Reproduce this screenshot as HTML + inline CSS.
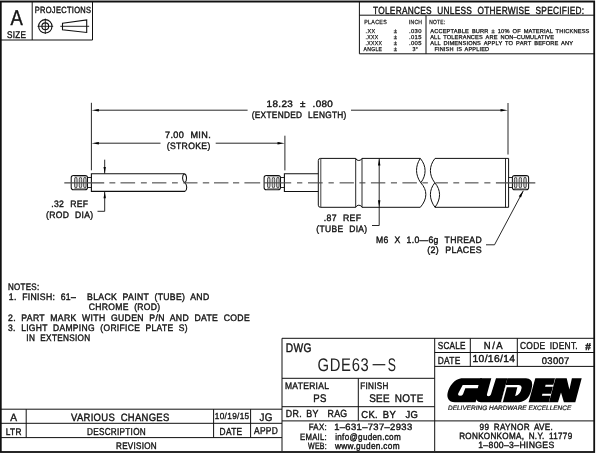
<!DOCTYPE html>
<html><head><meta charset="utf-8"><title>GDE63-S</title>
<style>
html,body{margin:0;padding:0;background:#fff;}
body{width:600px;height:453px;overflow:hidden;}
svg{display:block;will-change:transform;}
svg text{font-family:"Liberation Sans",sans-serif;text-rendering:geometricPrecision;fill:#141414;white-space:pre;stroke:#141414;stroke-width:0.4px;letter-spacing:0.35px;}
.l line,.l path,.l rect,.l circle,.l polyline{stroke:#101010;fill:none;}
.f{fill:#000;stroke:none;}
svg .sm text{stroke-width:0.25px;}
</style></head><body>
<svg width="600" height="453" viewBox="0 0 600 453">
<rect x="0" y="0" width="600" height="453" fill="#fff"/>
<g class="l">
<rect x="0" y="0" width="595" height="0.9" style="fill:#c6c6c6;stroke:none"/>
<rect x="0.8" y="1.6" width="593.4" height="450.4" stroke-width="1.8"/>
<line x1="32.2" y1="1" x2="32.2" y2="40" stroke-width="1.0" />
<line x1="92.5" y1="1" x2="92.5" y2="40" stroke-width="1.0" />
<line x1="1" y1="40" x2="92.5" y2="40" stroke-width="1.0" />
<circle cx="45.3" cy="26.3" r="6.7" stroke-width="1.1"/>
<circle cx="45.3" cy="26.3" r="3.4" stroke-width="1.1"/>
<line x1="37.5" y1="26.3" x2="53.2" y2="26.3" stroke-width="0.9" />
<line x1="45.3" y1="18.6" x2="45.3" y2="34" stroke-width="0.9" />
<path d="M62.5,23.2 L86.7,20 L86.7,32.5 L62.5,29.7 Z" stroke-width="1.1"/>
<line x1="60.3" y1="26.3" x2="89.2" y2="26.3" stroke-width="0.9" />
<line x1="359.4" y1="1" x2="359.4" y2="53.8" stroke-width="1.0" />
<line x1="359.4" y1="15.2" x2="595" y2="15.2" stroke-width="1.0" />
<line x1="359.4" y1="53.8" x2="595" y2="53.8" stroke-width="1.0" />
<line x1="426" y1="15.2" x2="426" y2="53.8" stroke-width="1.0" />
<line x1="91.4" y1="102.8" x2="91.4" y2="170.3" stroke-width="0.9" />
<line x1="508" y1="103" x2="508" y2="154.5" stroke-width="0.9" />
<line x1="284.9" y1="135.7" x2="284.9" y2="170.4" stroke-width="0.9" />
<line x1="96.3" y1="110.2" x2="247.6" y2="110.2" stroke-width="0.9" />
<line x1="351" y1="110.2" x2="503" y2="110.2" stroke-width="0.9" />
<line x1="96.3" y1="143.2" x2="160.5" y2="143.2" stroke-width="0.9" />
<line x1="215.7" y1="143.2" x2="280" y2="143.2" stroke-width="0.9" />
<line x1="104.7" y1="159.7" x2="104.7" y2="173.5" stroke-width="0.9" />
<polyline points="104.7,191.7 104.7,211.3 97.5,211.3" stroke-width="0.9"/>
<polyline points="379.2,158.5 379.2,225.5 372,225.5" stroke-width="0.9"/>
<polyline points="523.3,190.8 494.5,244.8 486,244.8" stroke-width="0.9"/>
<path d="M184.3,173.8 H91.4 V191.4 H185" stroke-width="1.1"/>
<path d="M184.3,173.8 C187.2,174.8 187.2,181.2 184.8,182.8 C182,181.2 181.8,175.3 184.3,173.8 M184.8,182.8 C187.4,184.7 187.3,189.8 185,191.4" stroke-width="1.05"/>
<path d="M73.5,175.45 H85.2 Q87.5,175.45 87.5,177.75 V187.45 Q87.5,189.75 85.2,189.75 H73.5 Q71.2,189.75 71.2,187.45 V177.75 Q71.2,175.45 73.5,175.45 Z" stroke-width="1.05"/>
<rect x="74.60" y="177.30" width="2.5" height="10.6" rx="1.2" ry="2" stroke-width="0.75" style="stroke:#1a1a1a;fill:#d4d4d4"/>
<rect x="79.24" y="177.30" width="2.5" height="10.6" rx="1.2" ry="2" stroke-width="0.75" style="stroke:#1a1a1a;fill:#d4d4d4"/>
<rect x="83.64" y="177.30" width="2.5" height="10.6" rx="1.2" ry="2" stroke-width="0.75" style="stroke:#1a1a1a;fill:#d4d4d4"/>
<path d="M74.25,176.70 H86.49 M74.25,188.50 H86.49" stroke-width="0.6" style="stroke:#555"/>
<path d="M87.5,177.50 H91.4 M87.5,187.50 H91.4" stroke-width="0.9"/>
<path d="M266.40000000000003,175.45 H278.2 Q280.5,175.45 280.5,177.75 V187.45 Q280.5,189.75 278.2,189.75 H266.40000000000003 Q264.1,189.75 264.1,187.45 V177.75 Q264.1,175.45 266.40000000000003,175.45 Z" stroke-width="1.05"/>
<rect x="267.52" y="177.30" width="2.5" height="10.6" rx="1.2" ry="2" stroke-width="0.75" style="stroke:#1a1a1a;fill:#d4d4d4"/>
<rect x="272.20" y="177.30" width="2.5" height="10.6" rx="1.2" ry="2" stroke-width="0.75" style="stroke:#1a1a1a;fill:#d4d4d4"/>
<rect x="276.63" y="177.30" width="2.5" height="10.6" rx="1.2" ry="2" stroke-width="0.75" style="stroke:#1a1a1a;fill:#d4d4d4"/>
<path d="M267.17,176.70 H279.48 M267.17,188.50 H279.48" stroke-width="0.6" style="stroke:#555"/>
<path d="M280.5,177.50 H284.4 M280.5,187.50 H284.4" stroke-width="0.9"/>
<path d="M318.3,173.8 H284.4 V191.5 H318.3" stroke-width="1.1"/>
<path d="M420.3,158.4 H362 Q361.2,160.5 358.85,160.5 Q356.5,160.5 355.7,158.4 H320.5 Q318.3,158.4 318.3,160.6 V205.2 Q318.3,207.3 320.5,207.3 H355.7 Q356.5,205.2 358.85,205.2 Q361.2,205.2 362,207.3 H420.3" stroke-width="1"/>
<line x1="320.8" y1="158.4" x2="320.8" y2="207.3" stroke-width="0.8" />
<line x1="355.7" y1="158.4" x2="355.7" y2="207.3" stroke-width="0.9" />
<line x1="362" y1="158.4" x2="362" y2="207.3" stroke-width="0.9" />
<path d="M420.3,158.4 C426.6,166 426.6,175 420.8,182.8 C415.2,175 415.2,166 420.3,158.4 M420.8,182.8 C427.6,190 427.6,199 420.3,207.3" stroke-width="1"/>
<path d="M435,158.4 H508.6 V207.3 H435" stroke-width="1"/>
<line x1="505.5" y1="158.4" x2="505.5" y2="207.3" stroke-width="0.9" />
<path d="M435,158.4 C428.9,166 428.9,175 434.8,182.8 C441.1,190 441.1,199 435,207.3 C428.9,199 428.9,190 434.8,182.8" stroke-width="1"/>
<path d="M514.6999999999999,175.45 H526.3000000000001 Q528.6,175.45 528.6,177.75 V187.45 Q528.6,189.75 526.3000000000001,189.75 H514.6999999999999 Q512.4,189.75 512.4,187.45 V177.75 Q512.4,175.45 514.6999999999999,175.45 Z" stroke-width="1.05"/>
<rect x="514.39" y="177.30" width="2.5" height="10.6" rx="1.2" ry="2" stroke-width="0.75" style="stroke:#1a1a1a;fill:#d4d4d4"/>
<rect x="519.09" y="177.30" width="2.5" height="10.6" rx="1.2" ry="2" stroke-width="0.75" style="stroke:#1a1a1a;fill:#d4d4d4"/>
<rect x="523.79" y="177.30" width="2.5" height="10.6" rx="1.2" ry="2" stroke-width="0.75" style="stroke:#1a1a1a;fill:#d4d4d4"/>
<path d="M514.04,176.70 H526.64 M514.04,188.50 H526.64" stroke-width="0.6" style="stroke:#555"/>
<path d="M512.4,177.50 H508.5 M512.4,187.50 H508.5" stroke-width="0.9"/>
<line x1="64.3" y1="182.85" x2="104.2" y2="182.85" stroke-width="1.1" style="stroke:#4a4a4a"/>
<line x1="109.4" y1="182.85" x2="115.3" y2="182.85" stroke-width="1.1" style="stroke:#4a4a4a"/>
<line x1="120.5" y1="182.85" x2="135.1" y2="182.85" stroke-width="1.1" style="stroke:#4a4a4a"/>
<line x1="140.9" y1="182.85" x2="146.8" y2="182.85" stroke-width="1.1" style="stroke:#4a4a4a"/>
<line x1="152" y1="182.85" x2="166.4" y2="182.85" stroke-width="1.1" style="stroke:#4a4a4a"/>
<line x1="172" y1="182.85" x2="177.8" y2="182.85" stroke-width="1.1" style="stroke:#4a4a4a"/>
<line x1="183.2" y1="182.85" x2="197.5" y2="182.85" stroke-width="1.1" style="stroke:#4a4a4a"/>
<line x1="202.8" y1="182.85" x2="209.2" y2="182.85" stroke-width="1.1" style="stroke:#4a4a4a"/>
<line x1="214" y1="182.85" x2="228.4" y2="182.85" stroke-width="1.1" style="stroke:#4a4a4a"/>
<line x1="233" y1="182.85" x2="239.2" y2="182.85" stroke-width="1.1" style="stroke:#4a4a4a"/>
<line x1="244.4" y1="182.85" x2="260.2" y2="182.85" stroke-width="1.1" style="stroke:#4a4a4a"/>
<line x1="264" y1="182.85" x2="291.2" y2="182.85" stroke-width="1.1" style="stroke:#4a4a4a"/>
<line x1="297" y1="182.85" x2="302.3" y2="182.85" stroke-width="1.1" style="stroke:#4a4a4a"/>
<line x1="308" y1="182.85" x2="322.7" y2="182.85" stroke-width="1.1" style="stroke:#4a4a4a"/>
<line x1="328.5" y1="182.85" x2="333.8" y2="182.85" stroke-width="1.1" style="stroke:#4a4a4a"/>
<line x1="339.6" y1="182.85" x2="353.9" y2="182.85" stroke-width="1.1" style="stroke:#4a4a4a"/>
<line x1="359.4" y1="182.85" x2="365.4" y2="182.85" stroke-width="1.1" style="stroke:#4a4a4a"/>
<line x1="370.9" y1="182.85" x2="385.3" y2="182.85" stroke-width="1.1" style="stroke:#4a4a4a"/>
<line x1="390.9" y1="182.85" x2="397" y2="182.85" stroke-width="1.1" style="stroke:#4a4a4a"/>
<line x1="402.4" y1="182.85" x2="416.9" y2="182.85" stroke-width="1.1" style="stroke:#4a4a4a"/>
<line x1="422.3" y1="182.85" x2="427.9" y2="182.85" stroke-width="1.1" style="stroke:#4a4a4a"/>
<line x1="435.6" y1="182.85" x2="447.9" y2="182.85" stroke-width="1.1" style="stroke:#4a4a4a"/>
<line x1="453.3" y1="182.85" x2="459.2" y2="182.85" stroke-width="1.1" style="stroke:#4a4a4a"/>
<line x1="464.9" y1="182.85" x2="478.5" y2="182.85" stroke-width="1.1" style="stroke:#4a4a4a"/>
<line x1="484.3" y1="182.85" x2="490.4" y2="182.85" stroke-width="1.1" style="stroke:#4a4a4a"/>
<line x1="495.9" y1="182.85" x2="535.3" y2="182.85" stroke-width="1.1" style="stroke:#4a4a4a"/>
<line x1="1" y1="409.2" x2="282" y2="409.2" stroke-width="1.0" />
<line x1="1" y1="423.3" x2="282" y2="423.3" stroke-width="1.0" />
<line x1="1" y1="437.6" x2="282" y2="437.6" stroke-width="1.0" />
<line x1="26.2" y1="409.2" x2="26.2" y2="437.6" stroke-width="1.0" />
<line x1="213.6" y1="409.2" x2="213.6" y2="437.6" stroke-width="1.0" />
<line x1="250.6" y1="409.2" x2="250.6" y2="437.6" stroke-width="1.0" />
<line x1="282" y1="338.3" x2="595" y2="338.3" stroke-width="1.0" />
<line x1="282" y1="338.3" x2="282" y2="451" stroke-width="1.0" />
<line x1="282" y1="378.3" x2="434.7" y2="378.3" stroke-width="1.0" />
<line x1="282" y1="406.7" x2="434.7" y2="406.7" stroke-width="1.0" />
<line x1="282" y1="420.9" x2="595" y2="420.9" stroke-width="1.0" />
<line x1="358.3" y1="378.3" x2="358.3" y2="420.8" stroke-width="1.0" />
<line x1="434.7" y1="338.3" x2="434.7" y2="451" stroke-width="1.0" />
<line x1="434.7" y1="352.5" x2="595" y2="352.5" stroke-width="1.0" />
<line x1="434.7" y1="366.4" x2="595" y2="366.4" stroke-width="1.0" />
<line x1="470.3" y1="338.3" x2="470.3" y2="366.4" stroke-width="1.0" />
<line x1="517.3" y1="338.3" x2="517.3" y2="366.4" stroke-width="1.0" />
</g>
<polygon class="f" points="91.60,110.20 98.90,108.95 98.90,111.45"/>
<polygon class="f" points="507.80,110.20 500.50,111.45 500.50,108.95"/>
<polygon class="f" points="91.60,143.20 98.90,141.95 98.90,144.45"/>
<polygon class="f" points="284.80,143.20 277.50,144.45 277.50,141.95"/>
<polygon class="f" points="104.70,173.50 103.50,167.00 105.90,167.00"/>
<polygon class="f" points="104.70,191.70 105.90,198.20 103.50,198.20"/>
<polygon class="f" points="379.20,158.50 380.40,165.50 378.00,165.50"/>
<polygon class="f" points="379.20,207.30 378.00,200.30 380.40,200.30"/>
<polygon class="f" points="523.30,190.80 521.02,197.55 518.75,196.28"/>
<g>
<text x="10.6" y="25.3" font-size="21.4" textLength="12.6" lengthAdjust="spacingAndGlyphs" >A</text>
<text x="7" y="37.5" font-size="9.7" textLength="19.3" lengthAdjust="spacingAndGlyphs" >SIZE</text>
<text x="34.7" y="12.5" font-size="9.0" textLength="56.6" lengthAdjust="spacingAndGlyphs" >PROJECTIONS</text>
<text x="373" y="13.6" font-size="10.4" textLength="211.4" lengthAdjust="spacingAndGlyphs" word-spacing="3.5">TOLERANCES UNLESS OTHERWISE SPECIFIED:</text>
<g class="sm">
<text x="364.2" y="24" font-size="6.0" textLength="22.8" lengthAdjust="spacingAndGlyphs" >PLACES</text>
<text x="408.8" y="24" font-size="6.0" textLength="13.5" lengthAdjust="spacingAndGlyphs" >INCH</text>
<text x="429.2" y="24" font-size="6.0" textLength="16.2" lengthAdjust="spacingAndGlyphs" >NOTE:</text>
<text x="365.6" y="32.7" font-size="5.7" textLength="9.8" lengthAdjust="spacingAndGlyphs" >.XX</text>
<text x="365.6" y="38.7" font-size="5.7" textLength="12.9" lengthAdjust="spacingAndGlyphs" >.XXX</text>
<text x="365.6" y="44.7" font-size="5.7" textLength="16.7" lengthAdjust="spacingAndGlyphs" >.XXXX</text>
<text x="363.5" y="50.7" font-size="5.7" textLength="18.8" lengthAdjust="spacingAndGlyphs" >ANGLE</text>
<text x="393.8" y="32.7" font-size="5.7" textLength="3.7" lengthAdjust="spacingAndGlyphs" >±</text>
<text x="393.8" y="38.7" font-size="5.7" textLength="3.7" lengthAdjust="spacingAndGlyphs" >±</text>
<text x="393.8" y="44.7" font-size="5.7" textLength="3.7" lengthAdjust="spacingAndGlyphs" >±</text>
<text x="393.8" y="50.7" font-size="5.7" textLength="3.7" lengthAdjust="spacingAndGlyphs" >±</text>
<text x="409" y="32.7" font-size="5.7" textLength="12.9" lengthAdjust="spacingAndGlyphs" >.030</text>
<text x="409" y="38.7" font-size="5.7" textLength="12.9" lengthAdjust="spacingAndGlyphs" >.015</text>
<text x="409" y="44.7" font-size="5.7" textLength="12.9" lengthAdjust="spacingAndGlyphs" >.005</text>
<text x="412.5" y="50.7" font-size="5.7" textLength="5.8" lengthAdjust="spacingAndGlyphs" >3°</text>
<text x="430.2" y="32.7" font-size="5.7" textLength="159.4" lengthAdjust="spacingAndGlyphs" word-spacing="1.2" style="letter-spacing:0.15px">ACCEPTABLE BURR ± 10% OF MATERIAL THICKNESS</text>
<text x="430.2" y="38.7" font-size="5.7" textLength="124.0" lengthAdjust="spacingAndGlyphs" word-spacing="1.2" style="letter-spacing:0.15px">ALL TOLERANCES ARE NON–CUMULATIVE</text>
<text x="430.2" y="44.7" font-size="5.7" textLength="143.1" lengthAdjust="spacingAndGlyphs" word-spacing="1.2" style="letter-spacing:0.15px">ALL DIMENSIONS APPLY TO PART BEFORE ANY</text>
<text x="434.4" y="50.7" font-size="5.7" textLength="54.8" lengthAdjust="spacingAndGlyphs" word-spacing="1.2" style="letter-spacing:0.15px">FINISH IS APPLIED</text>
</g>
<text x="266.6" y="107.0" font-size="9.3" textLength="66.6" lengthAdjust="spacingAndGlyphs" word-spacing="3.5">18.23 ± .080</text>
<text x="251.7" y="117.9" font-size="9.3" textLength="95.0" lengthAdjust="spacingAndGlyphs" word-spacing="3.5">(EXTENDED LENGTH)</text>
<text x="165" y="137.9" font-size="9.3" textLength="46" lengthAdjust="spacingAndGlyphs" word-spacing="3.5">7.00 MIN.</text>
<text x="166.7" y="149.4" font-size="9.3" textLength="44.0" lengthAdjust="spacingAndGlyphs" >(STROKE)</text>
<text x="51.3" y="207.1" font-size="9.3" textLength="37.0" lengthAdjust="spacingAndGlyphs" word-spacing="3.5">.32 REF</text>
<text x="46" y="217.9" font-size="9.3" textLength="47.5" lengthAdjust="spacingAndGlyphs" word-spacing="3.5">(ROD DIA)</text>
<text x="323.8" y="221.4" font-size="9.3" textLength="37.5" lengthAdjust="spacingAndGlyphs" word-spacing="3.5">.87 REF</text>
<text x="316.3" y="232.2" font-size="9.3" textLength="51.2" lengthAdjust="spacingAndGlyphs" word-spacing="3.5">(TUBE DIA)</text>
<text x="375.9" y="242.7" font-size="9.3" textLength="106.1" lengthAdjust="spacingAndGlyphs" word-spacing="3.5">M6 X 1.0—6g THREAD</text>
<text x="427.3" y="252.9" font-size="9.3" textLength="54.7" lengthAdjust="spacingAndGlyphs" word-spacing="3.5">(2) PLACES</text>
<text x="8" y="290.1" font-size="9.4" textLength="31.5" lengthAdjust="spacingAndGlyphs" >NOTES:</text>
<text x="8.8" y="300.2" font-size="9.4" textLength="200.7" lengthAdjust="spacingAndGlyphs" word-spacing="3">1. FINISH: 61–  BLACK PAINT (TUBE) AND</text>
<text x="88.8" y="310.4" font-size="9.4" textLength="71.7" lengthAdjust="spacingAndGlyphs" word-spacing="3">CHROME (ROD)</text>
<text x="8" y="320.5" font-size="9.4" textLength="242" lengthAdjust="spacingAndGlyphs" word-spacing="3">2. PART MARK WITH GUDEN P/N AND DATE CODE</text>
<text x="8" y="330.9" font-size="9.4" textLength="180" lengthAdjust="spacingAndGlyphs" word-spacing="3">3. LIGHT DAMPING (ORIFICE PLATE S)</text>
<text x="26.3" y="341.0" font-size="9.4" textLength="64.2" lengthAdjust="spacingAndGlyphs" word-spacing="3">IN EXTENSION</text>
<text x="10.2" y="420.6" font-size="10.7" textLength="7.1" lengthAdjust="spacingAndGlyphs" >A</text>
<text x="5.8" y="434.5" font-size="9.5" textLength="15.9" lengthAdjust="spacingAndGlyphs" >LTR</text>
<text x="71" y="420.6" font-size="10.6" textLength="98.6" lengthAdjust="spacingAndGlyphs" word-spacing="3">VARIOUS CHANGES</text>
<text x="87" y="434.7" font-size="10.0" textLength="59" lengthAdjust="spacingAndGlyphs" >DESCRIPTION</text>
<text x="116" y="449.1" font-size="9.5" textLength="41" lengthAdjust="spacingAndGlyphs" >REVISION</text>
<text x="214.8" y="419.2" font-size="8.7" textLength="34.7" lengthAdjust="spacingAndGlyphs" style="stroke-width:0.35px">10/19/15</text>
<text x="259.6" y="420.5" font-size="11.1" textLength="13.2" lengthAdjust="spacingAndGlyphs" >JG</text>
<text x="219.6" y="434.7" font-size="10.2" textLength="22.8" lengthAdjust="spacingAndGlyphs" >DATE</text>
<text x="254" y="434.4" font-size="10.0" textLength="24" lengthAdjust="spacingAndGlyphs" >APPD</text>
<text x="285.8" y="352.3" font-size="12.4" textLength="25.9" lengthAdjust="spacingAndGlyphs" >DWG</text>
<text x="317.6" y="371" font-size="18.3" textLength="51.8" lengthAdjust="spacingAndGlyphs" style="stroke-width:0;fill:#222;letter-spacing:0.8px">GDE63</text>
<text x="387.8" y="371" font-size="18.3" textLength="8.2" lengthAdjust="spacingAndGlyphs" style="stroke-width:0;fill:#222;letter-spacing:0">S</text>
<line x1="372.6" y1="364.7" x2="385.3" y2="364.7" style="stroke:#222;stroke-width:1.25"/>
<text x="285" y="389.3" font-size="9.6" textLength="44.2" lengthAdjust="spacingAndGlyphs" >MATERIAL</text>
<text x="313.3" y="402.1" font-size="11.1" textLength="13.4" lengthAdjust="spacingAndGlyphs" >PS</text>
<text x="360.3" y="388.7" font-size="9.6" textLength="28.4" lengthAdjust="spacingAndGlyphs" >FINISH</text>
<text x="369.2" y="402.1" font-size="11.1" textLength="54.5" lengthAdjust="spacingAndGlyphs" word-spacing="2">SEE NOTE</text>
<text x="285.8" y="417.3" font-size="10.3" textLength="61.7" lengthAdjust="spacingAndGlyphs" word-spacing="2">DR. BY  RAG</text>
<text x="361.3" y="417.5" font-size="10.1" textLength="57.0" lengthAdjust="spacingAndGlyphs" word-spacing="2">CK. BY  JG</text>
<text x="308.7" y="429.7" font-size="9.2" textLength="18.3" lengthAdjust="spacingAndGlyphs" >FAX:</text>
<text x="334.2" y="429.7" font-size="9.2" textLength="78.3" lengthAdjust="spacingAndGlyphs" >1–631–737–2933</text>
<text x="300" y="439.7" font-size="9.2" textLength="27" lengthAdjust="spacingAndGlyphs" >EMAIL:</text>
<text x="335.2" y="439.7" font-size="9.2" textLength="65.8" lengthAdjust="spacingAndGlyphs" >info@guden.com</text>
<text x="308" y="449.3" font-size="9.2" textLength="19" lengthAdjust="spacingAndGlyphs" >WEB:</text>
<text x="335" y="449.3" font-size="9.2" textLength="65" lengthAdjust="spacingAndGlyphs" >www.guden.com</text>
<text x="437.7" y="349.2" font-size="10.2" textLength="28.1" lengthAdjust="spacingAndGlyphs" >SCALE</text>
<text x="483.7" y="349.2" font-size="10.1" textLength="20.6" lengthAdjust="spacingAndGlyphs" style="letter-spacing:1.7px">N/A</text>
<text x="520" y="349.4" font-size="10.0" textLength="58" lengthAdjust="spacingAndGlyphs" word-spacing="2">CODE IDENT.</text>
<text x="585.3" y="350" font-size="10.0" textLength="6.0" lengthAdjust="spacingAndGlyphs" font-weight="bold">#</text>
<text x="437.7" y="364" font-size="10.3" textLength="22.9" lengthAdjust="spacingAndGlyphs" >DATE</text>
<text x="472.5" y="361.9" font-size="10.1" textLength="42.9" lengthAdjust="spacingAndGlyphs" >10/16/14</text>
<text x="541.7" y="363.6" font-size="9.6" textLength="28.0" lengthAdjust="spacingAndGlyphs" >03007</text>
</g>
<g class="f">
<path fill-rule="evenodd" d="M461.3,378.3 H482 L480.2,385 H462.7 L458.2,393.6 Q457.7,395.8 460,395.8 Q462.3,395.8 463,394.2 L465.3,388.3 H479.3 L475.6,402.2 H455 C448.5,402.3 446.6,397.5 447.6,393 C449.5,386 454,379.5 461.3,378.3 Z"/>
<path d="M480.3,378.3 H491.3 L486.9,394.5 Q486.6,396.2 488.3,396.2 Q490.3,396.2 490.9,394.5 L496,378.3 H507.4 L500.9,402.2 H481 Q474.5,402.2 476,395 Z"/>
<path d="M507.4,378.3 H526 Q533.2,378.6 532,386.5 Q530,401 519,402.2 H500.9 Z"/>
<path style="fill:#fff" d="M505.7,385 L507.4,385 L502.7,402.6 L501,402.6 Z"/>
<path style="fill:#fff" d="M506.5,385 H519 Q522,385.3 521.6,388 Q520.5,394.5 515.5,396 H515.2 L517.3,387.3 H506 Z"/>
<path d="M535.3,378.3 H555 L553.4,384.8 H545.6 L545.1,386.8 H552.9 L551,393.7 H542.4 L541.9,395.8 H550.5 L548.8,402.2 H528.6 Z"/>
<path d="M555.5,378.3 H566.7 L569.4,389.5 L571.9,378.3 H581.7 L575.3,402.2 H563.9 L561,392.5 L558,402.2 H549 Z"/>
</g>
<text x="448" y="409.8" font-size="6.4" font-style="italic" textLength="123.3" lengthAdjust="spacingAndGlyphs" style="letter-spacing:0;stroke-width:0.2px">DELIVERING HARDWARE EXCELLENCE</text>
<text x="479.6" y="429.8" font-size="9.0" textLength="73.6" lengthAdjust="spacingAndGlyphs" word-spacing="2">99 RAYNOR AVE.</text>
<text x="459.2" y="439.2" font-size="9.0" textLength="113.3" lengthAdjust="spacingAndGlyphs" word-spacing="2">RONKONKOMA, N.Y. 11779</text>
<text x="478.2" y="448.2" font-size="9.0" textLength="76.4" lengthAdjust="spacingAndGlyphs" >1–800–3–HINGES</text>
</svg></body></html>
